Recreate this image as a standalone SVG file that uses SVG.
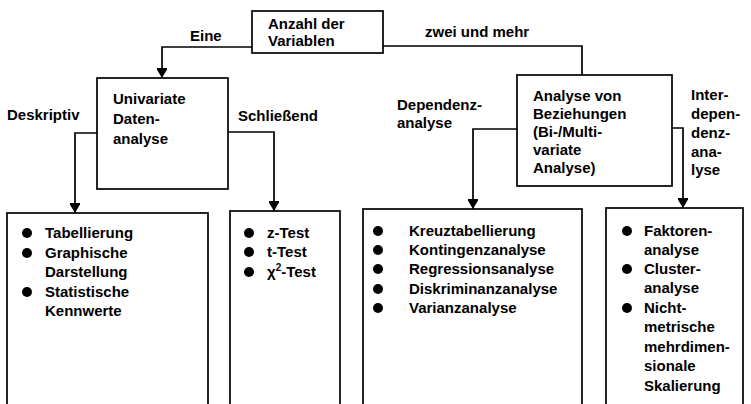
<svg xmlns="http://www.w3.org/2000/svg" width="751" height="404" viewBox="0 0 751 404">
<style>
  .box{fill:#fff;stroke:#000;stroke-width:1.7}
  .ln{fill:none;stroke:#000;stroke-width:1.7}
  text{font-family:"Liberation Sans",Arial,Helvetica,sans-serif;font-size:15px;font-weight:bold;fill:#000}
  .dot{fill:#000}
</style>
<defs>
  <marker id="arr" markerUnits="userSpaceOnUse" markerWidth="12" markerHeight="10" viewBox="0 0 12 10" refX="6" refY="10" orient="auto-start-reverse">
    <path d="M0,0 L12,0 L6,10 Z" fill="#000" transform="rotate(-90 6 5)"/>
  </marker>
  <marker id="ah" markerUnits="userSpaceOnUse" markerWidth="12" markerHeight="10" viewBox="0 0 12 10" refX="10" refY="5" orient="auto">
    <path d="M0,0 L10,5 L0,10 Z" fill="#000" transform="translate(0,0) scale(1,1.2) translate(0,-0.8)"/>
  </marker>
</defs>

<g id="connectors">
  <path class="ln" d="M252,47 H162 V78" marker-end="url(#ah)"/>
  <path class="ln" d="M383,46 H582 V75"/>
  <path class="ln" d="M97,133 H75 V213" marker-end="url(#ah)"/>
  <path class="ln" d="M228,132 H274 V211" marker-end="url(#ah)"/>
  <path class="ln" d="M517,129 H473 V209" marker-end="url(#ah)"/>
  <path class="ln" d="M672,128 H683 V208" marker-end="url(#ah)"/>
  <text x="190" y="41">Eine</text>
  <text x="425" y="37">zwei und mehr</text>
  <text x="7" y="120">Deskriptiv</text>
  <text x="238" y="121">Schließend</text>
  <text x="397" y="110">Dependenz-</text>
  <text x="397" y="128">analyse</text>
  <text x="691" y="100">Inter-</text>
  <text x="691" y="119">depen-</text>
  <text x="691" y="138">denz-</text>
  <text x="691" y="157">ana-</text>
  <text x="691" y="175">lyse</text>
</g>

<g id="anzahl">
  <rect class="box" x="252" y="11" width="131" height="42"/>
  <text x="268" y="29">Anzahl der</text>
  <text x="268" y="46">Variablen</text>
</g>

<g id="univariate">
  <rect class="box" x="97" y="78" width="131" height="111"/>
  <text x="113" y="104">Univariate</text>
  <text x="113" y="124">Daten-</text>
  <text x="113" y="144">analyse</text>
</g>

<g id="beziehungen">
  <rect class="box" x="517" y="75" width="155" height="111"/>
  <text x="533" y="101">Analyse von</text>
  <text x="533" y="119">Beziehungen</text>
  <text x="533" y="137">(Bi-/Multi-</text>
  <text x="533" y="155">variate</text>
  <text x="533" y="173">Analyse)</text>
</g>

<g id="deskriptiv-box">
  <rect class="box" x="7" y="213" width="201" height="220"/>
  <circle class="dot" cx="27" cy="233" r="5"/>
  <text x="45" y="238">Tabellierung</text>
  <circle class="dot" cx="27" cy="253" r="5"/>
  <text x="45" y="258">Graphische</text>
  <text x="45" y="277">Darstellung</text>
  <circle class="dot" cx="27" cy="292" r="5"/>
  <text x="45" y="297">Statistische</text>
  <text x="45" y="316">Kennwerte</text>
</g>

<g id="schliessend-box">
  <rect class="box" x="230" y="211" width="110" height="220"/>
  <circle class="dot" cx="249" cy="233" r="5"/>
  <text x="267" y="238">z-Test</text>
  <circle class="dot" cx="249" cy="252" r="5"/>
  <text x="267" y="257">t-Test</text>
  <circle class="dot" cx="249" cy="272" r="5"/>
  <text x="267" y="277">χ<tspan font-size="10" dy="-6">2</tspan><tspan dy="6">-Test</tspan></text>
</g>

<g id="dependenz-box">
  <rect class="box" x="363" y="209" width="219" height="220"/>
  <circle class="dot" cx="378" cy="231" r="5"/>
  <text x="409" y="236">Kreuztabellierung</text>
  <circle class="dot" cx="378" cy="250" r="5"/>
  <text x="409" y="255">Kontingenzanalyse</text>
  <circle class="dot" cx="378" cy="269" r="5"/>
  <text x="409" y="274">Regressionsanalyse</text>
  <circle class="dot" cx="378" cy="289" r="5"/>
  <text x="409" y="294">Diskriminanzanalyse</text>
  <circle class="dot" cx="378" cy="308" r="5"/>
  <text x="409" y="313">Varianzanalyse</text>
</g>

<g id="interdependenz-box">
  <rect class="box" x="606" y="208" width="137" height="220"/>
  <circle class="dot" cx="627" cy="231" r="5"/>
  <text x="644" y="236">Faktoren-</text>
  <text x="644" y="255">analyse</text>
  <circle class="dot" cx="627" cy="269" r="5"/>
  <text x="644" y="274">Cluster-</text>
  <text x="644" y="293">analyse</text>
  <circle class="dot" cx="627" cy="308" r="5"/>
  <text x="644" y="313">Nicht-</text>
  <text x="644" y="332">metrische</text>
  <text x="644" y="352">mehrdimen-</text>
  <text x="644" y="371">sionale</text>
  <text x="644" y="391">Skalierung</text>
</g>
</svg>
